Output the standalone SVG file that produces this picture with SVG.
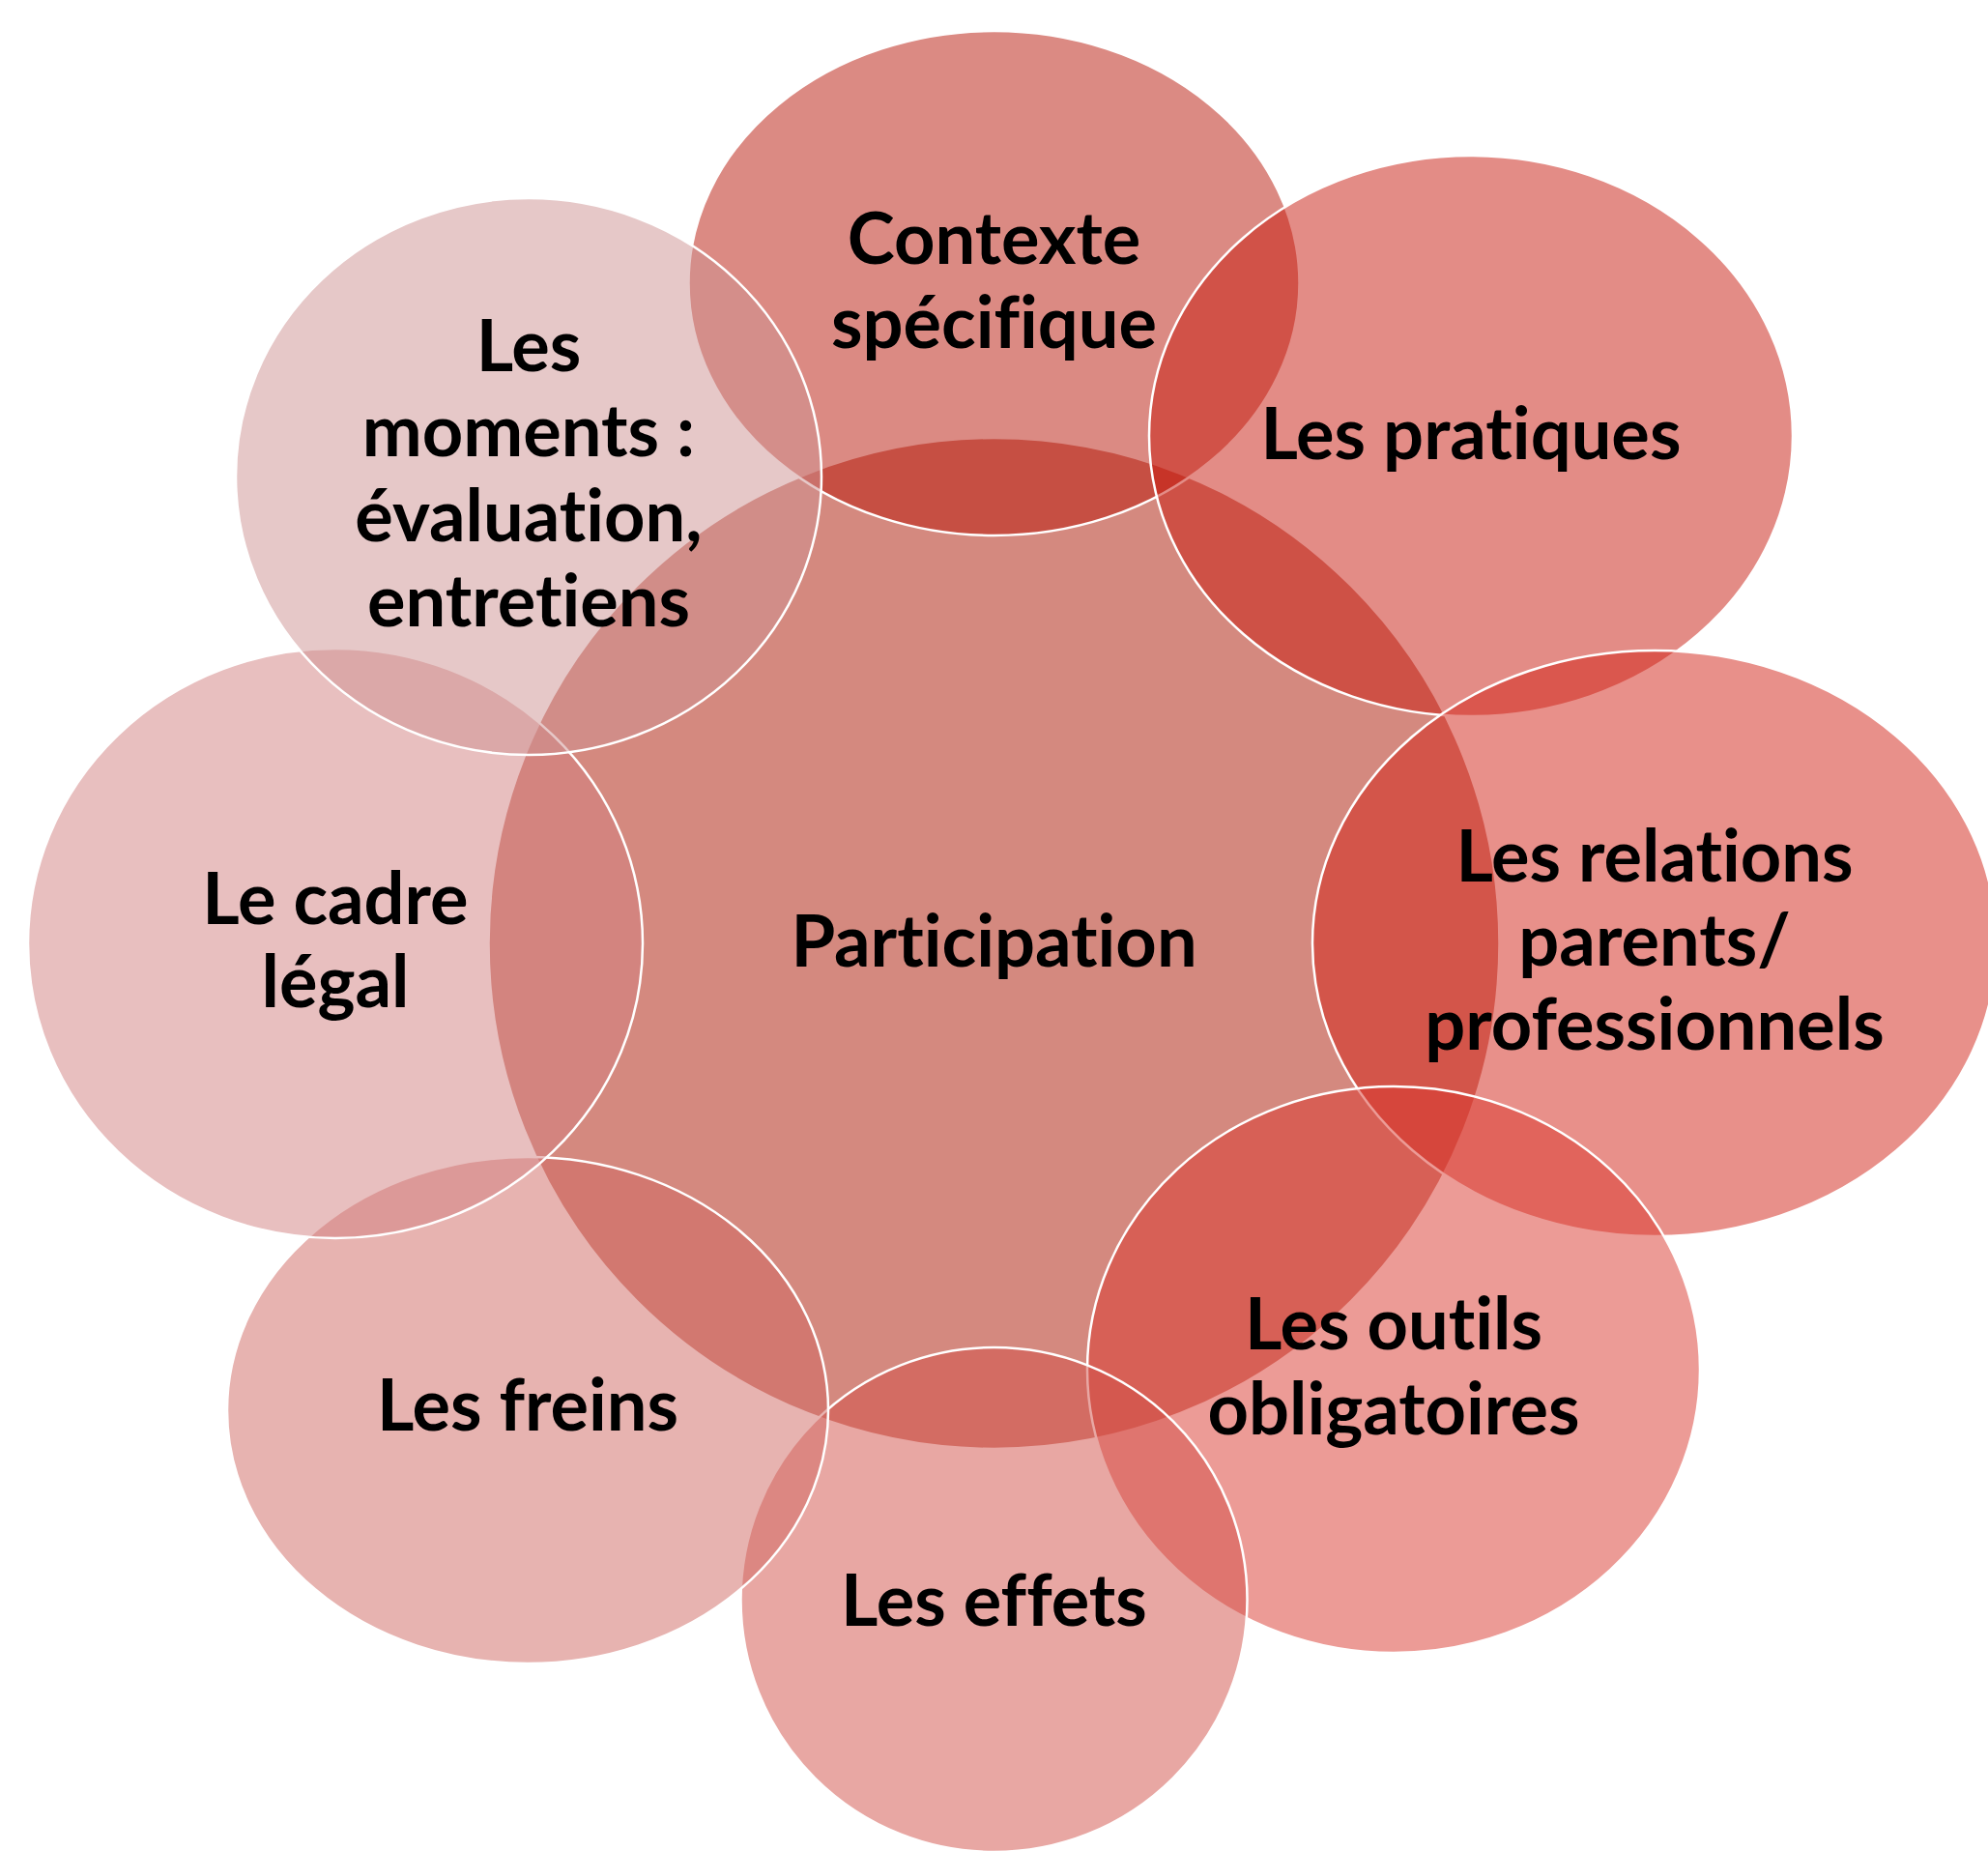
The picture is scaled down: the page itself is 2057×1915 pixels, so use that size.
<svg xmlns="http://www.w3.org/2000/svg" width="2057" height="1915" viewBox="0 0 2057 1915">
<style>
.n{stroke:#ffffff;stroke-width:2.5}
.o{fill-opacity:0.5}
.t{font-family:Lato,"Open Sans","Liberation Sans",sans-serif;font-weight:bold;font-size:74px;fill:#000000;text-anchor:middle;font-variant-ligatures:none;font-feature-settings:"liga" 0,"clig" 0}
</style>
<rect x="0" y="0" width="2057" height="1915" fill="#ffffff"/>
<g id="connectors"></g>
<g id="participation">
<ellipse class="n" cx="1028.5" cy="976" rx="523" ry="523" fill="#d4897f"/>
<text class="t" x="1028.5" y="1000">Participation</text>
</g>
<g id="contexte">
<ellipse class="n o" cx="1028.5" cy="293" rx="316" ry="261" fill="#b71507"/>
</g>
<g id="pratiques">
<ellipse class="n o" cx="1522" cy="451" rx="333" ry="290" fill="#c7190d"/>
</g>
<g id="relations">
<ellipse class="n o" cx="1712" cy="976" rx="354" ry="303" fill="#d12115"/>
</g>
<g id="outils">
<ellipse class="n o" cx="1442" cy="1417" rx="317" ry="293" fill="#d9372d"/>
</g>
<g id="effets">
<ellipse class="n o" cx="1028.5" cy="1655" rx="262" ry="261" fill="#d14f47"/>
</g>
<g id="freins">
<ellipse class="n o" cx="546" cy="1459" rx="311" ry="262" fill="#cf6761"/>
</g>
<g id="cadre">
<ellipse class="n o" cx="347" cy="976" rx="318" ry="305" fill="#d17f7f"/>
</g>
<g id="moments">
<ellipse class="n o" cx="547" cy="493" rx="303" ry="288" fill="#cd9191"/>
</g>
<g id="labels">
<text class="t" x="1028.5" y="273">Contexte</text>
<text class="t" x="1028.5" y="360">spécifique</text>
<text class="t" x="1522" y="475">Les pratiques</text>
<text class="t" x="1712" y="912">Les relations</text>
<text class="t" x="1712" y="999">parents/</text>
<text class="t" x="1712" y="1086">professionnels</text>
<text class="t" x="1442" y="1396">Les outils</text>
<text class="t" x="1442" y="1484">obligatoires</text>
<text class="t" x="1028.5" y="1682">Les effets</text>
<text class="t" x="546" y="1480">Les freins</text>
<text class="t" x="347" y="956">Le cadre</text>
<text class="t" x="347" y="1042">légal</text>
<text class="t" x="547" y="384">Les</text>
<text class="t" x="547" y="472">moments :</text>
<text class="t" x="547" y="560">évaluation,</text>
<text class="t" x="547" y="648">entretiens</text>
</g>
</svg>
